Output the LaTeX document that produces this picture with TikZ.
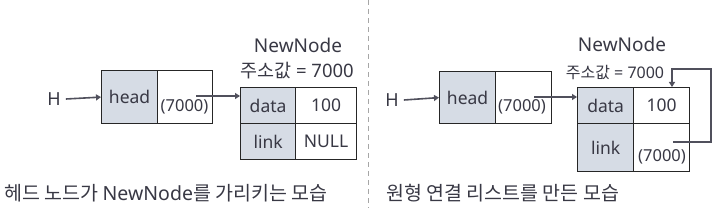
\documentclass[tikz,border=0pt]{standalone}
\usepackage{fontspec}
\setmainfont{Noto Sans}
\newfontfamily\kr{Noto Sans CJK KR}
\usetikzlibrary{arrows.meta}
\definecolor{cellfill}{HTML}{D6DCE5}
\definecolor{txt}{HTML}{383844}
\definecolor{arr}{HTML}{50505C}
\tikzset{
  cell/.style={draw=black!85, line width=1.2pt, anchor=north west, inner sep=0pt, text=txt, font=\fontsize{17.5}{19}\selectfont},
  keycell/.style={cell, fill=cellfill},
  ptr/.style={text=txt, inner sep=0pt, font=\fontsize{16.5}{18}\selectfont},
  lbl/.style={text=txt, inner sep=0pt},
  arrowline/.style={draw=arr, line width=1.6pt, -{Triangle[length=5pt,width=6pt]}},
}
\begin{document}
\begin{tikzpicture}[x=1pt,y=-1pt]
\useasboundingbox (0,0) rectangle (719,208);
% divider
\draw[gray!70, line width=1pt, dash pattern=on 5pt off 4pt] (368,0) -- (368,208);

% ---------- left panel ----------
\node[lbl, font=\fontsize{18}{20}\selectfont] (HL) at (54,99) {H};
\node[keycell, minimum width=56pt, minimum height=53pt] (headL) at (101,70) {head};
\node[cell, minimum width=55pt, minimum height=53pt] (hptrL) at (157,70) {};
\node[ptr] (h7L) at (184.5,107) {(7000)};
\node[lbl, font=\fontsize{19}{21}\selectfont] (nnL) at (298,45) {NewNode};
\node[lbl, font=\fontsize{18.5}{20}\selectfont] (addrL) at (297,71) {{\kr 주소값} = 7000};
\node[keycell, minimum width=55pt, minimum height=36pt] (dataL) at (240,87) {data};
\node[cell, minimum width=61pt, minimum height=36pt] (valL) at (295,87) {100};
\node[keycell, minimum width=55pt, minimum height=36pt] (linkL) at (240,123) {link};
\node[cell, minimum width=61pt, minimum height=36pt] (nullL) at (295,123) {NULL};
\coordinate (hsL) at (196,96);
\draw[arrowline] (HL.east) ++(5,0) coordinate (HLe) (HLe) -- (headL.west);
\draw[arrowline] (hsL) -- (dataL.west|-hsL);
\node[lbl, font=\fontsize{19.5}{21}\selectfont, anchor=west] (capL) at (4,193) {{\kr 헤드 노드가 }NewNode{\kr 를 가리키는 모습}};

% ---------- right panel ----------
\node[lbl, font=\fontsize{18}{20}\selectfont] (HR) at (392,100) {H};
\node[keycell, minimum width=56pt, minimum height=52pt] (headR) at (439,71) {head};
\node[cell, minimum width=56pt, minimum height=52pt] (hptrR) at (495,71) {};
\node[ptr] (h7R) at (522,107) {(7000)};
\node[lbl, font=\fontsize{19}{21}\selectfont] (nnR) at (622,44) {NewNode};
\node[lbl, font=\fontsize{16}{18}\selectfont] (addrR) at (615,73) {{\kr 주소값} = 7000};
\node[keycell, minimum width=56pt, minimum height=36pt] (dataR) at (577,87) {data};
\node[cell, minimum width=56pt, minimum height=36pt] (valR) at (633,87) {100};
\node[keycell, minimum width=56pt, minimum height=48pt] (linkR) at (577,123) {link};
\node[cell, minimum width=56pt, minimum height=48pt] (lptrR) at (633,123) {};
\node[ptr] (l7R) at (662,157) {(7000)};
\coordinate (hsR) at (534,97);
\draw[arrowline] (HR.east) ++(5,0) coordinate (HRe) (HRe) -- (headR.west);
\draw[arrowline] (hsR) -- (dataR.west|-hsR);
\coordinate (lsR) at (673,142);
\coordinate (lcR) at (711,69);
\coordinate (ltR) at (672,87);
\draw[arrowline] (lsR) -| (lcR) -| (ltR);
\node[lbl, font=\fontsize{19.5}{21}\selectfont, anchor=west] (capR) at (386,193) {\kr 원형 연결 리스트를 만든 모습};
\end{tikzpicture}
\end{document}
